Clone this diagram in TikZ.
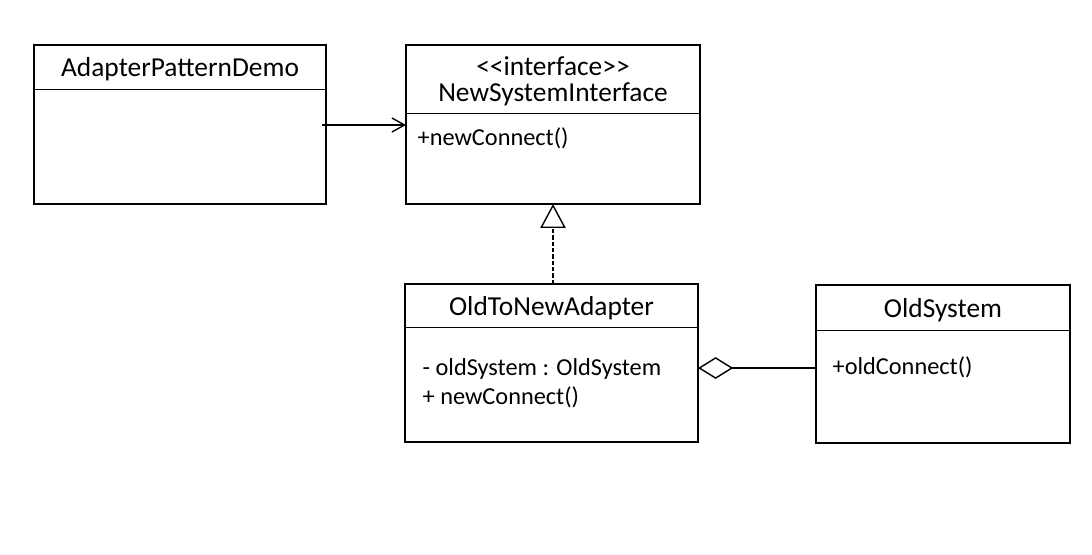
\documentclass[tikz,border=0pt]{standalone}
\usepackage{fontspec}
\setmainfont{Carlito}
\usetikzlibrary{positioning,calc,arrows.meta}

\tikzset{
  classname/.style={draw, line width=0.6pt, inner sep=0pt, outer sep=0pt,
    align=center, text depth=0pt, font=\fontsize{19.5}{18}\selectfont},
  classbody/.style={draw, line width=0.6pt, inner sep=0pt, outer sep=0pt},
  member/.style={anchor=west, inner sep=0pt, font=\fontsize{17.3}{19}\selectfont},
  frame/.style={line width=1.4pt},
}

\begin{document}
\begin{tikzpicture}[x=0.025cm, y=-0.025cm, line width=1pt]
    \useasboundingbox (0,0) rectangle (1092,554);

    % client class
    \node[classname, minimum width=7.3cm, minimum height=1.1cm] (demoH) at (180,67) {AdapterPatternDemo};
    \node[classbody, below=0 of demoH, minimum width=7.3cm, minimum height=2.875cm] (demoB) {};
    \draw[frame] (demoH.north west) rectangle (demoB.south east);

    % target interface
    \node[classname, minimum width=7.35cm, minimum height=1.7cm] (ifH) at (553,79)
      {<\kern0pt<interface>\kern0pt>\\NewSystemInterface};
    \node[classbody, below=0 of ifH, minimum width=7.35cm, minimum height=2.275cm] (ifB) {};
    \draw[frame] (ifH.north west) rectangle (ifB.south east);
    \node[member] (ifOp) at ($(ifB.north west)+(11,25)$) {+newConnect()};

    % adapter
    \node[classname, minimum width=7.325cm, minimum height=1.075cm] (adH) at (551.5,305.5) {OldToNewAdapter};
    \node[classbody, below=0 of adH, minimum width=7.325cm, minimum height=2.875cm] (adB) {};
    \draw[frame] (adH.north west) rectangle (adB.south east);
    \node[member] (adAttr) at ($(adB.north west)+(17,42)$) {- oldSystem : OldSystem};
    \node[member] (adOp) at ($(adB.north west)+(17,70)$) {+ newConnect()};

    % adaptee
    \node[classname, minimum width=6.35cm, minimum height=1.125cm] (osH) at (943,307.5) {OldSystem};
    \node[classbody, below=0 of osH, minimum width=6.35cm, minimum height=2.825cm] (osB) {};
    \draw[frame] (osH.north west) rectangle (osB.south east);
    \node[member] (osOp) at ($(osB.north west)+(16,37)$) {+oldConnect()};

    % usage
    \coordinate (useStart) at (322,125);
    \draw[-{Straight Barb[length=9pt, width=10pt]}] (useStart) -- (useStart -| ifH.west);

    % realization
    \draw[dash pattern=on 3pt off 1.5pt, -{Triangle[open, length=17pt, width=18pt]}]
      (adH.north -| ifB.south) -- (ifB.south);

    % aggregation
    \coordinate (aggY) at (0,368);
    \draw[{Diamond[open, length=25pt, width=15.5pt]}-] (adB.east |- aggY) -- (osB.west |- aggY);
\end{tikzpicture}
\end{document}
